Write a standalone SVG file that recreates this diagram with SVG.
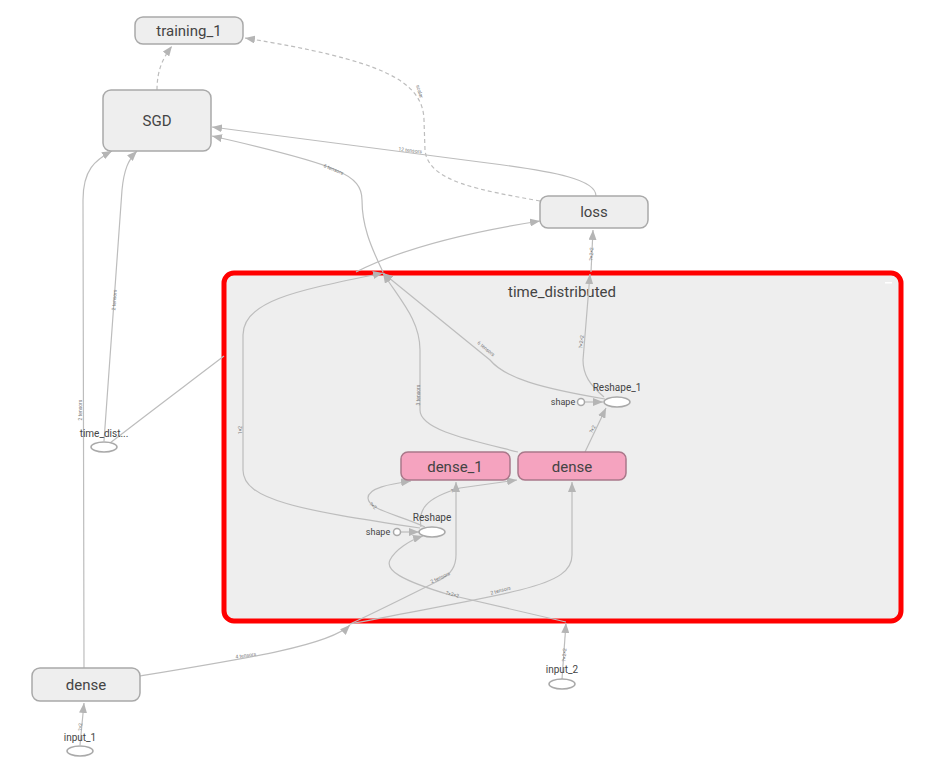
<svg xmlns="http://www.w3.org/2000/svg" width="931" height="775" viewBox="0 0 931 775">
<defs>
<marker id="arr" markerUnits="userSpaceOnUse" markerWidth="10" markerHeight="8" viewBox="0 0 10 8" refX="10" refY="4" orient="auto"><path d="M0,0 L10,4 L0,8 z" fill="#b5b5b5"/></marker>
<style>
.node{fill:#eeeeee;stroke:#a9a9a9;stroke-width:1.5}
.pink{fill:#f5a3bf;stroke:#a9788a;stroke-width:1.5}
.op{fill:#ffffff;stroke:#a9a9a9;stroke-width:1.5}
.t{font-family:Roboto,"Liberation Sans",sans-serif;fill:#444;text-anchor:middle}
.big{font-size:15px}
.sm{font-size:10px}
.xs{font-size:9px}
.e{fill:none;stroke:#bdbdbd;stroke-width:1.2;marker-end:url(#arr)}
.en{fill:none;stroke:#bdbdbd;stroke-width:1.2}
.d{stroke-dasharray:4,3}
.lb{font-family:Roboto,"Liberation Sans",sans-serif;font-size:5px;fill:#777;text-anchor:middle}
</style>
</defs>
<rect width="931" height="775" fill="#ffffff"/>

<g id="cluster_time_distributed">
<rect x="224" y="273" width="677" height="348" rx="10" fill="#eeeeee" stroke="#ff0000" stroke-width="5"/>
<text class="t big" x="562" y="297">time_distributed</text>
<rect x="885" y="282" width="7" height="1.5" fill="#ffffff"/>
</g>

<g id="connectors">
<path class="e d" d="M157,90 C157,70 163,58 172,46"/>
<path class="e d" d="M540,201 C480,190 428,182 425,150 L424,120 C423,80 380,60 245,38"/>
<text class="lb" transform="translate(418,92) rotate(72)">scalar</text>
<path class="e" d="M596,196 C596,180 560,172 480,162 L212,127"/>
<text class="lb" transform="translate(410,152) rotate(7)">12 tensors</text>
<path class="e" d="M383,272 C370,245 362,225 362,200 C362,175 340,165 212,136"/>
<text class="lb" transform="translate(333,171) rotate(22)">6 tensors</text>
<path class="e" d="M104,441 L122,190 C124,170 128,160 137,151"/>
<text class="lb" transform="translate(116,300) rotate(-86)">2 tensors</text>
<path class="e" d="M84,668 L83,200 C83,170 95,160 112,151"/>
<text class="lb" transform="translate(82,410) rotate(-90)">2 tensors</text>
<path class="en" d="M110,443 C150,412 190,382 224,356"/>
<path class="e" d="M356,272 C395,252 450,235 540,221"/>
<path class="e" d="M140,676 C250,658 330,645 350,625"/>
<text class="lb" transform="translate(246,657) rotate(-8)">4 tensors</text>
<path class="e" d="M80,745 L84,703"/>
<text class="lb" transform="translate(82,727) rotate(-85)">?×2</text>
<path class="e" d="M562,679 L566,623"/>
<text class="lb" transform="translate(566,655) rotate(-85)">?×2×2</text>
<path class="e" d="M591,272 L593,230"/>
<text class="lb" transform="translate(593,254) rotate(-87)">?×2×2</text>

<path class="e" d="M604,397 C590,385 583,375 583,360 L590,274"/>
<text class="lb" transform="translate(583,342) rotate(-84)">?×2×2</text>
<path class="e" d="M605,399 C540,388 505,378 490,360 L383,273"/>
<text class="lb" transform="translate(485,350) rotate(40)">6 tensors</text>
<path class="e" d="M518,452 C470,440 420,430 420,410 L420,350 C420,320 400,300 383,273"/>
<text class="lb" transform="translate(420,395) rotate(-90)">3 tensors</text>
<path class="e" d="M420,528 C300,510 243,500 243,470 L243,335 C243,300 300,290 383,273"/>
<text class="lb" transform="translate(242,430) rotate(-90)">1×2</text>
<path class="e" d="M585,452 L606,408"/>
<text class="lb" transform="translate(594,430) rotate(-62)">?×2</text>
<path class="e" d="M585,402 L603,402"/>
<path class="e" d="M425,527 C400,515 368,510 368,498 C368,488 390,484 411,481"/>
<text class="lb" transform="translate(372,507) rotate(40)">?×2</text>
<path class="e" d="M421,527 C418,510 425,498 460,488 L517,480"/>
<text class="lb" transform="translate(455,492) rotate(-10)">?×2</text>
<path class="e" d="M401,532 L419,532"/>
<path class="e" d="M350,624 C380,610 420,590 440,580 C452,574 456,565 456,555 L456,482"/>
<text class="lb" transform="translate(441,579) rotate(-25)">2 tensors</text>
<path class="e" d="M350,624 C420,610 480,600 520,590 C560,580 572,570 572,555 L572,482"/>
<text class="lb" transform="translate(501,592) rotate(-15)">2 tensors</text>
<path class="e" d="M566,622 L450,595 C400,580 385,570 390,560 C395,550 410,540 423,536"/>
<text class="lb" transform="translate(452,596) rotate(15)">?×2×2</text>
</g>

<g id="training_1"><rect class="node" x="135" y="17" width="108" height="27" rx="8"/><text class="t big" x="189" y="36">training_1</text></g>
<g id="SGD"><rect class="node" x="103" y="90" width="108" height="61" rx="8"/><text class="t big" x="157" y="126">SGD</text></g>
<g id="loss"><rect class="node" x="540" y="196" width="108" height="32" rx="8"/><text class="t big" x="594" y="217">loss</text></g>
<g id="dense_1"><rect class="pink" x="401" y="452" width="109" height="28" rx="7"/><text class="t big" x="455" y="472">dense_1</text></g>
<g id="dense_inner"><rect class="pink" x="518" y="452" width="108" height="28" rx="7"/><text class="t big" x="572" y="472">dense</text></g>
<g id="Reshape_1"><ellipse class="op" cx="617" cy="402" rx="13" ry="5"/><text class="t sm" x="617" y="391">Reshape_1</text></g>
<g id="Reshape_1_shape"><circle class="op" cx="581" cy="402" r="3.5"/><text class="t xs" x="563" y="405">shape</text></g>
<g id="Reshape"><ellipse class="op" cx="432" cy="532" rx="13" ry="5"/><text class="t sm" x="432" y="521">Reshape</text></g>
<g id="Reshape_shape"><circle class="op" cx="397" cy="532" r="3.5"/><text class="t xs" x="378" y="535">shape</text></g>
<g id="time_dist"><ellipse class="op" cx="104" cy="447" rx="13" ry="5"/><text class="t sm" x="104" y="437">time_dist...</text></g>
<g id="dense_outer"><rect class="node" x="32" y="668" width="108" height="33" rx="8"/><text class="t big" x="86" y="690">dense</text></g>
<g id="input_1"><ellipse class="op" cx="80" cy="751" rx="13" ry="5"/><text class="t sm" x="80" y="741">input_1</text></g>
<g id="input_2"><ellipse class="op" cx="562" cy="684" rx="13" ry="5"/><text class="t sm" x="562" y="673">input_2</text></g>
</svg>
